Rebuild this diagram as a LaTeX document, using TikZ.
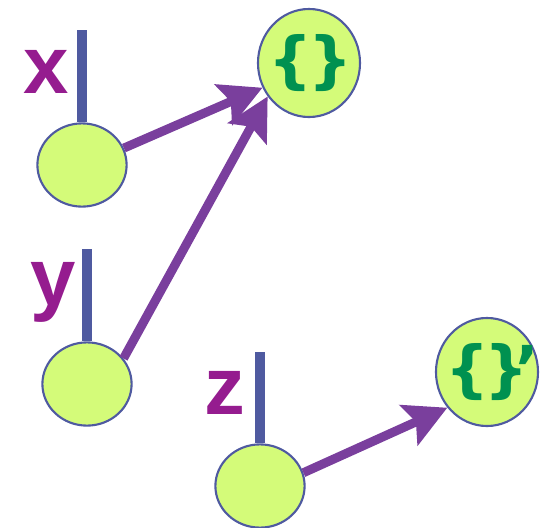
\documentclass[tikz,border=0pt]{standalone}
\usepackage{fontspec}
\usepackage{tikz}
\usetikzlibrary{arrows.meta,positioning,shapes.geometric}
\newfontfamily\lblfont{Liberation Sans}
\newfontfamily\setfont{DejaVu Sans}
\definecolor{blobfill}{HTML}{D4FB79}
\definecolor{blobline}{HTML}{4F5AA0}
\definecolor{arrpurple}{HTML}{7A3F9D}
\definecolor{lblpurple}{HTML}{951C8F}
\definecolor{setgreen}{HTML}{009150}

\begin{document}
\begin{tikzpicture}[x=0.025cm, y=-0.025cm,
  blob/.style={ellipse, draw=blobline, fill=blobfill, line width=1.5pt,
               minimum width=2.23cm, minimum height=2.08cm, inner sep=0pt},
  setnode/.style={blob, minimum width=2.55cm, minimum height=2.7cm, text=setgreen,
                  font=\setfont\bfseries\fontsize{44}{48}\selectfont},
  stem/.style={draw=blobline, line width=7pt},
  lbl/.style={text=lblpurple, inner sep=0pt, font=\lblfont\bfseries\fontsize{58}{60}\selectfont},
  arr/.style={-{Stealth[length=30pt, width=31pt, inset=5.5pt]}, arrpurple, line width=6.4pt},
]
\useasboundingbox (0,0) rectangle (548,528);

% variables
\node[blob] (x) at (82,165) {};
\node[blob] (y) at (87,384) {};
\node[blob] (z) at (260,486) {};

% sets
\node[setnode] (set1) at (309,63) {\makebox[0pt]{\hspace*{0.05em}\{\kern-0.08em\}}};
\node[setnode] (set2) at (487,372) {\makebox[0pt]{\{\kern-0.08em\}\rlap{\kern-0.22em’}}};

% stems and labels
\coordinate (xtop) at (82,30);
\coordinate (ytop) at (87,249);
\coordinate (ztop) at (260,352);
\draw[stem] (xtop) -- (x.north);
\draw[stem] (ytop) -- (y.north);
\draw[stem] (ztop) -- (z.north);
\node[lbl] (xlbl) at (46,72) {x};
\node[lbl] (ylbl) at (53,292) {y};
\node[lbl] (zlbl) at (225,393) {z};

% arrows
\draw[arr] (x.22) -- (set1.208);
\draw[arr] (y.35) -- (set1.219);
\draw[arr] (z.17) -- (set2.222);

\end{tikzpicture}
\end{document}
